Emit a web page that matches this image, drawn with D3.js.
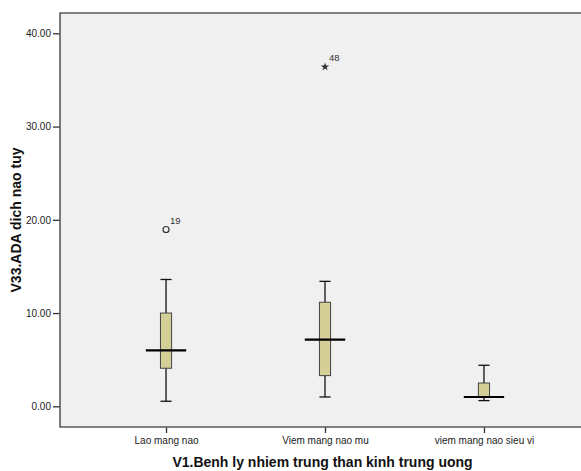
<!DOCTYPE html>
<html>
<head>
<meta charset="utf-8">
<script src="https://cdn.jsdelivr.net/npm/d3@7"></script>
<style>
  body { margin: 0; background: #fff; }
  svg { display: block; font-family: "Liberation Sans", Arial, sans-serif; }
</style>
</head>
<body>
<script>
// categories and five-number summaries
let groups = ["Lao mang nao", "Viem mang nao mu", "viem mang nao sieu vi"];
let whiskerLow = [0.54, 1.0, 0.61];
let q1 = [4.08, 3.29, 0.95];
let median = [6.0, 7.15, 1.0];
let q3 = [10.0, 11.16, 2.5];
let whiskerHigh = [13.6, 13.4, 4.4];
// outliers: [group index, value, case label, type]
let outliers = [
    [0, 18.96, "19", "circle"],
    [1, 36.4, "48", "star"]
];
let yTicks = [0, 10, 20, 30, 40];

let width = 581, height = 471;
let margin = {top: 13, right: -9, bottom: 44, left: 60};
let innerW = width - margin.left - margin.right,
    innerH = height - margin.top - margin.bottom;

let svg = d3.select("body").append("svg")
    .attr("width", width)
    .attr("height", height);

let x = d3.scalePoint().domain(groups).range([0, innerW]).padding(0.667);
let y = d3.scaleLinear().domain([-2.22, 42.18]).range([innerH, 0]);
let step = x.step();

let g = svg.append("g")
    .attr("transform", "translate(" + margin.left + "," + margin.top + ")");

// plot background
g.append("rect")
    .attr("width", innerW)
    .attr("height", innerH)
    .attr("fill", "#f0f0f0");

// y axis
let yAxis = g.append("g")
    .call(d3.axisLeft(y).tickValues(yTicks).tickFormat(d3.format(".2f"))
        .tickSize(7).tickPadding(2).tickSizeOuter(0));
yAxis.select(".domain").remove();
yAxis.selectAll("line").attr("stroke", "#333").attr("stroke-width", 1.3);
yAxis.selectAll("text").attr("font-size", 10).attr("fill", "#222")
    .attr("font-family", "Liberation Sans, Arial, sans-serif");

// x axis
let xAxis = g.append("g")
    .attr("transform", "translate(0," + innerH + ")")
    .call(d3.axisBottom(x).tickSize(6).tickPadding(4).tickSizeOuter(0));
xAxis.select(".domain").remove();
xAxis.selectAll("line").attr("stroke", "#333").attr("stroke-width", 1.3);
xAxis.selectAll("text").attr("font-size", 10).attr("fill", "#222")
    .attr("font-family", "Liberation Sans, Arial, sans-serif");

// frame
g.append("path")
    .attr("d", "M" + innerW + ",0H0V" + innerH + "H" + innerW)
    .attr("fill", "none")
    .attr("stroke", "#5a5a5a")
    .attr("stroke-width", 1.6);

let boxW = step * 0.07,
    medW = step * 0.254;

let boxes = g.selectAll(".box")
    .data(groups)
    .enter().append("g")
    .attr("class", "box")
    .attr("transform", d => "translate(" + x(d) + ",0)");

// whiskers
boxes.append("line")
    .attr("y1", (d, i) => y(whiskerLow[i]))
    .attr("y2", (d, i) => y(q1[i]))
    .attr("stroke", "#111").attr("stroke-width", 1.3);
boxes.append("line")
    .attr("y1", (d, i) => y(q3[i]))
    .attr("y2", (d, i) => y(whiskerHigh[i]))
    .attr("stroke", "#111").attr("stroke-width", 1.3);
boxes.append("line")
    .attr("x1", -boxW / 2).attr("x2", boxW / 2)
    .attr("y1", (d, i) => y(whiskerLow[i]))
    .attr("y2", (d, i) => y(whiskerLow[i]))
    .attr("stroke", "#111").attr("stroke-width", 1.3);
boxes.append("line")
    .attr("x1", -boxW / 2).attr("x2", boxW / 2)
    .attr("y1", (d, i) => y(whiskerHigh[i]))
    .attr("y2", (d, i) => y(whiskerHigh[i]))
    .attr("stroke", "#111").attr("stroke-width", 1.3);

// box
boxes.append("rect")
    .attr("x", -boxW / 2)
    .attr("width", boxW)
    .attr("y", (d, i) => y(q3[i]))
    .attr("height", (d, i) => y(q1[i]) - y(q3[i]))
    .attr("fill", "#d4cf97")
    .attr("stroke", "#444")
    .attr("stroke-width", 1);

// median
boxes.append("line")
    .attr("x1", -medW / 2).attr("x2", medW / 2)
    .attr("y1", (d, i) => y(median[i]))
    .attr("y2", (d, i) => y(median[i]))
    .attr("stroke", "#000").attr("stroke-width", 2.2);

// outliers
outliers.forEach(function (o) {
    let cx = x(groups[o[0]]), cy = y(o[1]);
    if (o[3] === "circle") {
        g.append("circle")
            .attr("cx", cx).attr("cy", cy).attr("r", 3)
            .attr("fill", "none").attr("stroke", "#333").attr("stroke-width", 1.2);
    } else {
        g.append("path")
            .attr("transform", "translate(" + cx + "," + cy + ")")
            .attr("d", d3.symbol().type(d3.symbolStar).size(22))
            .attr("fill", "#333");
    }
    g.append("text")
        .attr("x", cx + 4)
        .attr("y", cy - 6)
        .attr("font-size", 9.5)
        .attr("fill", "#333")
        .text(o[2]);
});

// axis titles
svg.append("text")
    .attr("x", margin.left + (width - margin.left) / 2 + 2)
    .attr("y", 467)
    .attr("text-anchor", "middle")
    .attr("font-size", 14)
    .attr("font-weight", "bold")
    .attr("fill", "#111")
    .text("V1.Benh ly nhiem trung than kinh trung uong");

svg.append("text")
    .attr("transform", "translate(21," + (margin.top + innerH / 2) + ") rotate(-90)")
    .attr("text-anchor", "middle")
    .attr("font-size", 14)
    .attr("font-weight", "bold")
    .attr("fill", "#111")
    .text("V33.ADA dich nao tuy");
</script>
</body>
</html>
